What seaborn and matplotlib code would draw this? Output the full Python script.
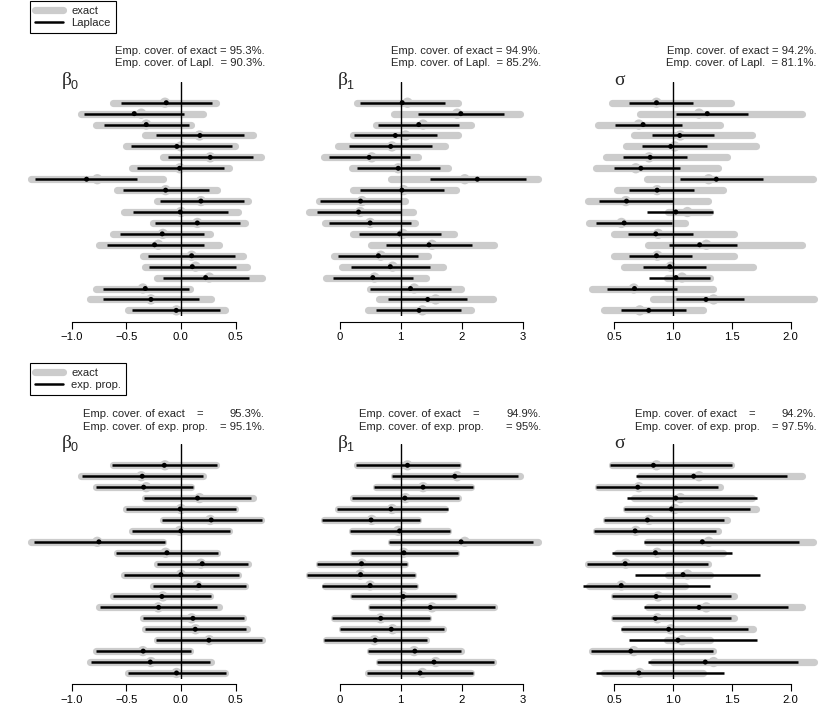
import numpy as np
import pandas as pd
import matplotlib.pyplot as plt
import seaborn as sns
from matplotlib.lines import Line2D

rows = np.arange(1, 21)

# beta0 : exact / Laplace / exp. prop.
b0_exact_lo = [-0.625, -0.91, -0.774, -0.332, -0.506, -0.165, -0.445, -1.369, -0.582, -0.22,
               -0.524, -0.253, -0.622, -0.753, -0.348, -0.329, -0.22, -0.777, -0.832, -0.485]
b0_exact_hi = [0.32, 0.20, 0.088, 0.655, 0.497, 0.729, 0.436, -0.162, 0.326, 0.613,
               0.524, 0.585, 0.268, 0.35, 0.570, 0.60, 0.744, 0.082, 0.271, 0.405]
b0_exact_pt = [-0.146, -0.363, -0.317, 0.17, 0.0, 0.268, -0.01, -0.765, -0.14, 0.183,
               0.0, 0.15, -0.165, -0.207, 0.098, 0.134, 0.259, -0.348, -0.274, -0.04]
b0_lapl_lo = [-0.552, -0.887, -0.707, -0.226, -0.46, -0.122, -0.405, -1.335, -0.534, -0.192,
              -0.436, -0.241, -0.561, -0.68, -0.299, -0.293, -0.165, -0.716, -0.716, -0.445]
b0_lapl_hi = [0.280, 0.03, 0.073, 0.579, 0.47, 0.659, 0.39, -0.40, 0.259, 0.573,
              0.433, 0.543, 0.213, 0.207, 0.497, 0.5, 0.622, 0.076, 0.168, 0.357]
b0_lapl_pt = [-0.134, -0.427, -0.317, 0.174, -0.037, 0.268, -0.012, -0.863, -0.14, 0.183,
              -0.006, 0.15, -0.171, -0.241, 0.098, 0.104, 0.226, -0.326, -0.274, -0.043]
b0_ep_lo = [-0.631, -0.909, -0.78, -0.338, -0.506, -0.174, -0.448, -1.345, -0.595, -0.223,
            -0.524, -0.256, -0.625, -0.741, -0.348, -0.332, -0.226, -0.78, -0.826, -0.485]
b0_ep_hi = [0.332, 0.201, 0.107, 0.643, 0.503, 0.741, 0.448, -0.146, 0.341, 0.61,
            0.53, 0.591, 0.274, 0.332, 0.576, 0.598, 0.744, 0.088, 0.262, 0.412]
b0_ep_pt = [-0.152, -0.354, -0.341, 0.152, -0.006, 0.277, 0.0, -0.75, -0.128, 0.195,
            0.0, 0.165, -0.174, -0.204, 0.11, 0.131, 0.256, -0.345, -0.28, -0.04]

# beta1
b1_exact_lo = [0.288, 0.884, 0.602, 0.217, -0.022, -0.25, 0.195, 0.846, 0.212, -0.347,
               -0.505, -0.244, 0.222, 0.515, -0.098, 0.043, -0.228, 0.494, 0.64, 0.472]
b1_exact_hi = [1.942, 2.963, 2.154, 1.932, 1.731, 1.291, 1.78, 3.256, 1.91, 1.069,
               1.194, 1.237, 1.877, 2.529, 1.454, 1.687, 1.422, 1.986, 2.512, 2.16]
b1_exact_pt = [1.112, 1.926, 1.367, 1.08, 0.857, 0.526, 0.96, 2.051, 1.047, 0.364,
               0.336, 0.499, 1.036, 1.514, 0.673, 0.868, 0.57, 1.221, 1.574, 1.357]
b1_lapl_lo = [0.331, 1.286, 0.629, 0.239, 0.157, -0.179, 0.282, 1.476, 0.331, -0.315,
              -0.38, -0.179, 0.315, 0.76, -0.022, 0.184, -0.114, 0.499, 0.787, 0.591]
b1_lapl_hi = [1.725, 2.702, 1.959, 1.595, 1.519, 1.145, 1.639, 3.049, 1.704, 0.998,
              0.998, 1.167, 1.66, 2.176, 1.286, 1.481, 1.194, 1.823, 2.094, 1.986]
b1_lapl_pt = [1.025, 1.986, 1.297, 0.912, 0.836, 0.483, 0.96, 2.257, 1.02, 0.342,
              0.309, 0.499, 0.982, 1.465, 0.635, 0.83, 0.543, 1.161, 1.443, 1.302]
b1_ep_lo = [0.26, 0.857, 0.57, 0.195, -0.043, -0.288, 0.168, 0.808, 0.184, -0.369,
            -0.532, -0.282, 0.19, 0.483, -0.13, 0.011, -0.25, 0.461, 0.608, 0.445]
b1_ep_hi = [1.97, 2.93, 2.187, 1.953, 1.77, 1.318, 1.807, 3.174, 1.932, 1.096,
            1.232, 1.264, 1.91, 2.55, 1.481, 1.709, 1.438, 1.997, 2.529, 2.187]
b1_ep_pt = [1.112, 1.888, 1.367, 1.069, 0.841, 0.515, 0.982, 1.991, 1.053, 0.358,
            0.342, 0.499, 1.042, 1.487, 0.673, 0.846, 0.581, 1.232, 1.546, 1.318]

# sigma
s_exact_lo = [0.484, 0.718, 0.359, 0.670, 0.602, 0.43, 0.342, 0.78, 0.526, 0.277,
              0.959, 0.288, 0.501, 0.789, 0.501, 0.583, 0.945, 0.311, 0.826, 0.413]
s_exact_hi = [1.494, 2.097, 1.40, 1.672, 1.706, 1.46, 1.381, 2.187, 1.429, 1.301,
              1.31, 1.098, 1.522, 2.097, 1.522, 1.683, 1.316, 1.341, 2.201, 1.253]
s_exact_pt = [0.859, 1.221, 0.709, 1.062, 1.014, 0.796, 0.683, 1.303, 0.864, 0.598,
              1.122, 0.561, 0.873, 1.283, 0.867, 0.98, 1.076, 0.666, 1.345, 0.717]
s_lapl_lo = [0.626, 1.023, 0.51, 0.825, 0.74, 0.578, 0.499, 1.059, 0.624, 0.369,
             0.782, 0.341, 0.615, 0.969, 0.629, 0.742, 0.796, 0.437, 1.023, 0.561]
s_lapl_hi = [1.167, 1.634, 1.079, 1.348, 1.291, 1.122, 1.062, 1.761, 1.181, 0.997,
             1.338, 0.992, 1.17, 1.546, 1.164, 1.277, 1.314, 1.034, 1.60, 1.11]
s_lapl_pt = [0.859, 1.291, 0.745, 1.057, 0.98, 0.805, 0.726, 1.368, 0.864, 0.604,
             1.023, 0.584, 0.853, 1.226, 0.859, 0.972, 1.025, 0.672, 1.28, 0.793]
s_ep_lo = [0.46, 0.689, 0.344, 0.604, 0.584, 0.414, 0.324, 0.751, 0.477, 0.267,
           0.675, 0.236, 0.479, 0.754, 0.477, 0.559, 0.629, 0.298, 0.791, 0.344]
s_ep_hi = [1.501, 1.971, 1.385, 1.716, 1.656, 1.436, 1.368, 2.075, 1.501, 1.297,
           1.741, 1.317, 1.495, 1.976, 1.495, 1.634, 1.713, 1.337, 2.061, 1.433]
s_ep_pt = [0.833, 1.175, 0.70, 1.023, 0.986, 0.782, 0.677, 1.249, 0.85, 0.593,
           1.085, 0.559, 0.856, 1.221, 0.85, 0.963, 1.042, 0.641, 1.274, 0.709]

param_symbols = ['\u03b2', '\u03b2', '\u03c3']
param_subscripts = ['0', '1', '']
true_values = [0.0, 1.0, 1.0]
tick_values = [[-1.0, -0.5, 0.0, 0.5], [0, 1, 2, 3], [0.5, 1.0, 1.5, 2.0]]
tick_labels = [['\u22121.0', '\u22120.5', '0.0', '0.5'], ['0', '1', '2', '3'],
               ['0.5', '1.0', '1.5', '2.0']]
cov_exact = ['95.3%', '94.9%', '94.2%']
cov_lapl = ['90.3%', '85.2%', '81.1%']
cov_ep = ['95.1%', '95%', '97.5%']

exact = [(b0_exact_lo, b0_exact_hi, b0_exact_pt),
         (b1_exact_lo, b1_exact_hi, b1_exact_pt),
         (s_exact_lo, s_exact_hi, s_exact_pt)]
lapl = [(b0_lapl_lo, b0_lapl_hi, b0_lapl_pt),
        (b1_lapl_lo, b1_lapl_hi, b1_lapl_pt),
        (s_lapl_lo, s_lapl_hi, s_lapl_pt)]
expprop = [(b0_ep_lo, b0_ep_hi, b0_ep_pt),
           (b1_ep_lo, b1_ep_hi, b1_ep_pt),
           (s_ep_lo, s_ep_hi, s_ep_pt)]

sns.set_theme(style="white")
plt.rcParams['font.family'] = ['Liberation Sans', 'DejaVu Sans']

W, H = 828, 725
fig = plt.figure(figsize=(W / 100, H / 100), dpi=100)
GRAY = '#cccccc'
FS = 8.1

# geometry in pixels
panel_w = 249.5
panel_h = 234.3
row_gap = 10.93
first_row = 21.0  # px from axes top to first row


def px_axes(left, top, w, h):
    return fig.add_axes([left / W, 1 - (top + h) / H, w / W, h / H])


def ftext(x, y, s, **kw):
    fig.text(x / W, 1 - y / H, s, fontsize=FS, va='center', **kw)


for r, (approx, top) in enumerate([(lapl, 81.7), (expprop, 444.3)]):
    for k in range(3):
        left = 22 + 276 * k
        ax = px_axes(left, top, panel_w, panel_h)
        lo, hi, pt = exact[k]
        alo, ahi, apt = approx[k]

        allv = np.concatenate([lo, hi, expprop[k][0], expprop[k][1], lapl[k][0], lapl[k][1]])
        pad = 0.04 * (allv.max() - allv.min())
        ax.set_xlim(allv.min() - pad, allv.max() + pad)
        y0 = 1 - first_row / row_gap
        ax.set_ylim(y0 + panel_h / row_gap, y0)

        ax.hlines(rows, lo, hi, color=GRAY, lw=5.2, capstyle='round', zorder=2)
        sns.scatterplot(x=pt, y=rows, color=GRAY, s=55, edgecolor='none',
                        legend=False, ax=ax, zorder=2.5)
        ax.axvline(true_values[k], color='black', lw=1.0, zorder=3)
        ax.hlines(rows, alo, ahi, color='black', lw=1.8, zorder=4)
        sns.scatterplot(x=apt, y=rows, color='black', s=13, edgecolor='none',
                        legend=False, ax=ax, zorder=5)

        for s in ['left', 'top', 'right']:
            ax.spines[s].set_visible(False)
        ax.spines['bottom'].set_position(('outward', 4))
        ax.spines['bottom'].set_bounds(tick_values[k][0], tick_values[k][-1])
        ax.spines['bottom'].set_color('black')
        ax.spines['bottom'].set_linewidth(0.8)
        ax.set_yticks([])
        ax.set_xticks(tick_values[k])
        ax.set_xticklabels(tick_labels[k])
        ax.tick_params(axis='x', bottom=True, direction='out', length=4.8, width=0.8,
                       colors='black', labelsize=FS, pad=3)
        ax.set_xlabel('')
        ax.set_ylabel('')

        # parameter label (upright greek + small subscript)
        fig.text((left + 40) / W, 1 - (top - 1) / H, param_symbols[k], fontsize=14,
                 family=['Liberation Serif', 'DejaVu Serif'], ha='left', va='center')
        if param_subscripts[k]:
            fig.text((left + 48.5) / W, 1 - (top + 4) / H, param_subscripts[k],
                     fontsize=9, ha='left', va='center')

        # coverage text
        ty = top - 31
        if r == 0:
            ftext(left + 243, ty, f'Emp. cover. of exact = {cov_exact[k]}.', ha='right')
            ftext(left + 243, ty + 12, f'Emp. cover. of Lapl.  = {cov_lapl[k]}.', ha='right')
        else:
            ftext(left + 61, ty + 1, 'Emp. cover. of exact', ha='left')
            ftext(left + 178, ty + 1, '=', ha='center')
            ftext(left + 243, ty + 1, f'{cov_exact[k]}.', ha='right')
            ftext(left + 61, ty + 14, 'Emp. cover. of exp. prop.', ha='left')
            ftext(left + 243, ty + 14, f'= {cov_ep[k]}.', ha='right')

# legends
for top_px, lab in [(1, 'Laplace'), (363, 'exp. prop.')]:
    handles = [Line2D([0], [0], color=GRAY, lw=5.2, solid_capstyle='round'),
               Line2D([0], [0], color='black', lw=1.8)]
    leg = fig.legend(handles, ['exact', lab], loc='upper left',
                     bbox_to_anchor=(30 / W, 1 - top_px / H), frameon=True,
                     fancybox=False, edgecolor='black', framealpha=1, fontsize=FS,
                     handlelength=2.5, borderaxespad=0, borderpad=0.45,
                     labelspacing=0.15, handletextpad=0.7)
    leg.get_frame().set_linewidth(0.8)

fig.savefig('out.png', dpi=100)
